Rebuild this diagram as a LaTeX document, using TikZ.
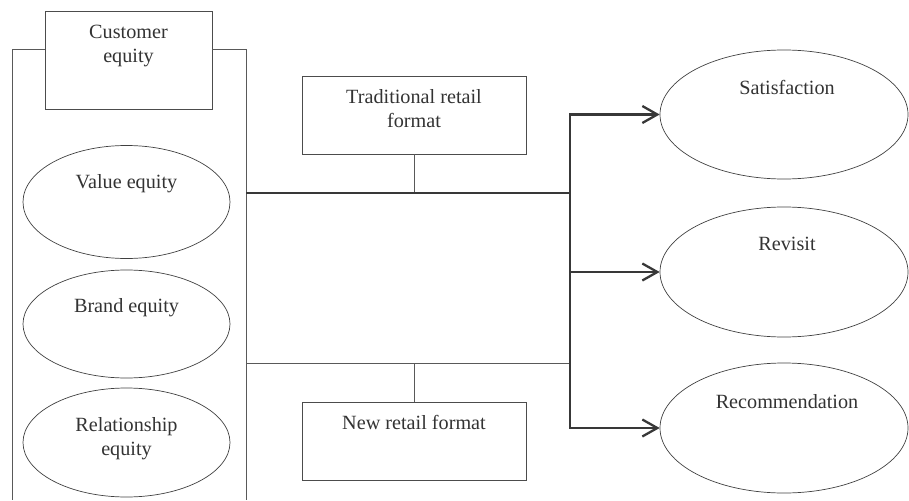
\documentclass[tikz,border=0pt]{standalone}
\usepackage{fontspec}
\setmainfont{Liberation Serif}
\usetikzlibrary{arrows.meta,shapes.geometric}
\begin{document}
\begin{tikzpicture}[x=1pt,y=-1pt,
  thinline/.style={draw=black!65, line width=1pt},
  thickline/.style={draw=black!78, line width=2.3pt},
  boxnode/.style={draw=black!70, line width=0.9pt, rectangle, minimum width=224pt, minimum height=78pt, inner sep=0pt},
  oval/.style={draw=black!75, line width=0.7pt, ellipse, inner sep=0pt},
  lbl/.style={font=\fontsize{20.2}{24}\selectfont, text=black!80, align=center, inner sep=0pt, anchor=north},
  tipped/.style={-{Straight Barb[length=15pt,width=17pt]}}
]
\useasboundingbox (0,0) rectangle (909,500);

% Customer equity container
\node[boxnode, minimum width=167pt, minimum height=98pt] (ce) at (128.5,60) {};
\node[lbl] (cet) at ([yshift=-14pt]ce.north) {Customer\\equity};
\draw[thinline] (ce.west |- 0,50) -- (12,50) -- (12,500);
\draw[thinline] (ce.east |- 0,50) -- (246,50) -- (246,500);

% left ellipses
\node[oval, minimum width=207pt, minimum height=113pt] (val) at (126.5,202) {};
\node[lbl] (valt) at (126.5,174) {Value equity};
\node[oval, minimum width=207pt, minimum height=108pt] (brd) at (126.5,324) {};
\node[lbl] (brdt) at (126.5,298) {Brand equity};
\node[oval, minimum width=207pt, minimum height=109pt] (rel) at (126.5,442.5) {};
\node[lbl] (relt) at (126.5,417) {Relationship\\equity};

% retail format boxes
\node[boxnode] (trad) at (414,115) {};
\node[lbl] (tradt) at ([yshift=-14pt]trad.north) {Traditional retail\\format};
\node[boxnode] (new) at (414,441) {};
\node[lbl] (newt) at ([yshift=-14pt]new.north) {New retail format};

% right ellipses
\node[oval, minimum width=248pt, minimum height=129pt] (sat) at (784,114.5) {};
\node[lbl] (satt) at (787,80) {Satisfaction};
\node[oval, minimum width=248pt, minimum height=130pt] (rev) at (784,272) {};
\node[lbl] (revt) at (787,237) {Revisit};
\node[oval, minimum width=248pt, minimum height=130pt] (rec) at (784,428) {};
\node[lbl] (rect) at (787,394) {Recommendation};

% connectors
\coordinate (lt) at (246,193);
\coordinate (lb) at (246,363);
\coordinate (j1) at (570,193);
\coordinate (j2) at (570,363);

\draw[thinline] (trad.south) -- (trad.south |- lt);
\draw[thinline] (new.north) -- (new.north |- lb);
\draw[thinline] (lb) -- (j2);
\draw[thickline] (lt) -- (j1);
\draw[thickline, tipped] (j1) |- (sat.west);
\draw[thickline, tipped] (j1) |- (rec.west);
\draw[thickline, tipped] (rev.west -| j1) -- (rev.west);
\end{tikzpicture}
\end{document}
